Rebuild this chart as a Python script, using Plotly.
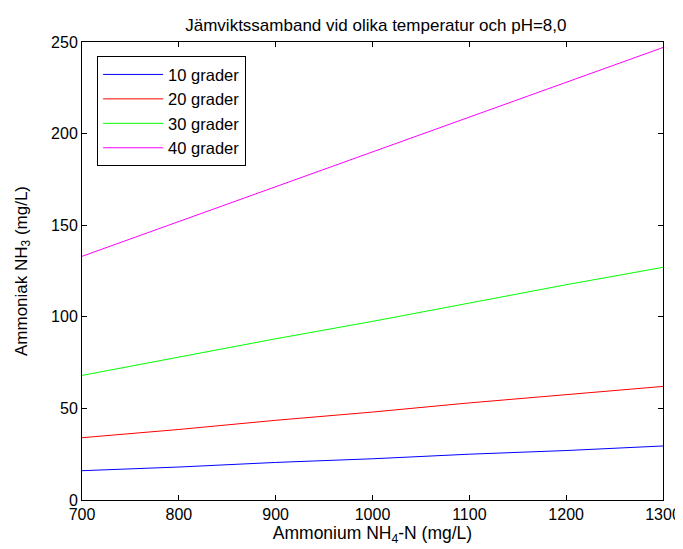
import plotly.graph_objects as go

ammonium = [700, 800, 900, 1000, 1100, 1200, 1300]
nh3_10 = [16, 18, 20.5, 22.5, 25, 27, 29.5]
nh3_20 = [34, 38.5, 43.5, 48, 53, 57.5, 62]
nh3_30 = [68, 78, 88, 97.5, 107.5, 117.5, 127]
nh3_40 = [133, 152, 171, 190, 209, 228, 247]
names = ["10 grader", "20 grader", "30 grader", "40 grader"]
colors = ["#0000ff", "#ff0000", "#00ff00", "#ff00ff"]

fig = go.Figure()
for n, ys, c in zip(names, [nh3_10, nh3_20, nh3_30, nh3_40], colors):
    fig.add_trace(go.Scatter(x=ammonium, y=ys, mode="lines", name=n,
                             line=dict(color=c, width=1)))

font = "Liberation Sans, Arial, sans-serif"
axis_common = dict(showline=True, linecolor="black", linewidth=1, mirror="ticks",
                   ticks="inside", ticklen=5, tickcolor="black", showgrid=False,
                   zeroline=False, automargin=False,
                   tickfont=dict(size=16, color="black", family=font))
fig.update_layout(
    width=675, height=541,
    margin=dict(l=74, r=20, t=34, b=49),
    paper_bgcolor="white", plot_bgcolor="white",
    title=dict(text="Jämviktssamband vid olika temperatur och pH=8,0",
               x=0.545, xanchor="center", y=0.968, yanchor="middle",
               font=dict(size=17, color="black", family=font)),
    xaxis=dict(range=[700, 1300], tickvals=[700, 800, 900, 1000, 1100, 1200, 1300],
               title=dict(text="Ammonium NH<sub>4</sub>-N (mg/L)", standoff=3,
                          font=dict(size=17.5, color="black", family=font)),
               **axis_common),
    yaxis=dict(range=[0, 250], tickvals=[0, 50, 100, 150, 200, 250],
               title=dict(text="Ammoniak NH<sub>3</sub> (mg/L)", standoff=19,
                          font=dict(size=17, color="black", family=font)),
               **axis_common),
    legend=dict(x=0.026, y=0.969, xanchor="left", yanchor="top",
                bordercolor="black", borderwidth=1, bgcolor="white",
                font=dict(size=16.5, color="black", family=font),
                tracegroupgap=0, itemwidth=60),
    showlegend=True,
)
fig.write_html("out.html")
